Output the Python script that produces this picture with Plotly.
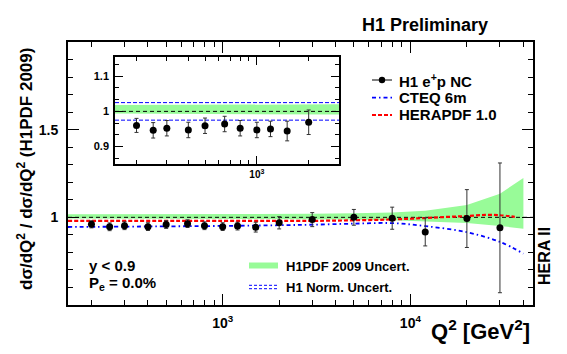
import numpy as np
import plotly.graph_objects as go

W, H = 567, 354

# ---------------- data ----------------
q2 = [200, 250, 300, 400, 500, 650, 800, 1000, 1200, 1500, 2000,
      3000, 5000, 8000, 12000, 20000, 30000]
ratio = [0.960, 0.946, 0.952, 0.947, 0.959, 0.964, 0.952, 0.947, 0.950, 0.944, 0.969,
         0.987, 1.000, 0.995, 0.917, 0.993, 0.940]
err = [0.020, 0.022, 0.022, 0.022, 0.022, 0.022, 0.022, 0.022, 0.022, 0.028, 0.035,
       0.040, 0.045, 0.063, 0.080, 0.165, 0.370]

band_q2 = [150, 1000, 3000, 5000, 8000, 12000, 20000, 30000, 40000]
band_hi = [1.018, 1.018, 1.020, 1.023, 1.028, 1.038, 1.070, 1.135, 1.225]
band_lo = [0.994, 0.993, 0.991, 0.988, 0.984, 0.978, 0.967, 0.951, 0.935]

cteq_q2 = [150, 300, 1000, 2000, 3000, 5000, 8000, 12000, 20000, 30000, 40000]
cteq = [0.945, 0.947, 0.951, 0.955, 0.958, 0.964, 0.967, 0.950, 0.915, 0.860, 0.793]

hera_q2 = [150, 1000, 3000, 5000, 8000, 12000, 16000, 20000, 25000, 30000, 36000]
hera = [0.980, 0.980, 0.980, 0.983, 0.988, 0.996, 1.003, 1.007, 1.014, 1.012, 1.003]

norm_unc = 0.025
n_inset = 11

main_x_range = [150, 45000]
main_y_range = [0.5, 2.0]
inset_x_range = [150, 3000]
inset_y_range = [0.85, 1.155]

FONT = "Liberation Sans"
CTEQ_DASH = "4px,3px,1.5px,3px"
HERA_DASH = "4px,2px"


def fx(x):
    return x / W


def fy(y):
    return 1 - y / H


fig = go.Figure()

# ---------------- main plot ----------------
fig.add_trace(go.Scatter(x=band_q2, y=band_lo, mode="lines", line=dict(width=0),
                         showlegend=False, hoverinfo="skip", xaxis="x", yaxis="y"))
fig.add_trace(go.Scatter(x=band_q2, y=band_hi, mode="lines", line=dict(width=0),
                         fill="tonexty", fillcolor="#98fb98", showlegend=False,
                         hoverinfo="skip", xaxis="x", yaxis="y"))
fig.add_trace(go.Scatter(x=main_x_range, y=[1, 1], mode="lines",
                         line=dict(color="black", width=1, dash="4px,3px"),
                         showlegend=False, xaxis="x", yaxis="y"))
fig.add_trace(go.Scatter(x=cteq_q2, y=cteq, mode="lines", line_shape="spline",
                         line=dict(color="blue", width=1.8, dash=CTEQ_DASH),
                         showlegend=False, xaxis="x", yaxis="y"))
fig.add_trace(go.Scatter(x=hera_q2, y=hera, mode="lines", line_shape="spline",
                         line=dict(color="red", width=2.2, dash=HERA_DASH),
                         showlegend=False, xaxis="x", yaxis="y"))
fig.add_trace(go.Scatter(x=q2, y=ratio, mode="markers",
                         marker=dict(color="black", size=7),
                         error_y=dict(type="data", array=err, color="#333333",
                                      thickness=1, width=2),
                         showlegend=False, xaxis="x", yaxis="y"))

# ---------------- inset ----------------
fig.add_trace(go.Scatter(x=band_q2, y=band_lo, mode="lines", line=dict(width=0),
                         showlegend=False, hoverinfo="skip", xaxis="x2", yaxis="y2"))
fig.add_trace(go.Scatter(x=band_q2, y=band_hi, mode="lines", line=dict(width=0),
                         fill="tonexty", fillcolor="#98fb98", showlegend=False,
                         hoverinfo="skip", xaxis="x2", yaxis="y2"))
for s in (1, -1):
    fig.add_trace(go.Scatter(x=inset_x_range, y=[1 + s * norm_unc] * 2, mode="lines",
                             line=dict(color="blue", width=1, dash="4px,2px"),
                             showlegend=False, xaxis="x2", yaxis="y2"))
fig.add_trace(go.Scatter(x=inset_x_range, y=[1, 1], mode="lines",
                         line=dict(color="black", width=1, dash="4px,3px"),
                         showlegend=False, xaxis="x2", yaxis="y2"))
fig.add_trace(go.Scatter(x=q2[:n_inset], y=ratio[:n_inset], mode="markers",
                         marker=dict(color="black", size=7),
                         error_y=dict(type="data", array=err[:n_inset], color="#333333",
                                      thickness=1, width=2),
                         showlegend=False, xaxis="x2", yaxis="y2"))

tickfont = dict(family=FONT, size=14, color="black", weight="bold")

main_minor_x = [200, 300, 400, 500, 600, 700, 800, 900,
                2000, 3000, 4000, 5000, 6000, 7000, 8000, 9000, 20000, 30000, 40000]
inset_minor_x = [200, 300, 400, 500, 600, 700, 800, 900, 2000, 3000]

fig.update_layout(
    width=W, height=H, margin=dict(l=0, r=0, t=0, b=0),
    paper_bgcolor="white", plot_bgcolor="white",
    showlegend=False,
    xaxis=dict(type="log", range=[np.log10(main_x_range[0]), np.log10(main_x_range[1])],
               domain=[fx(68), fx(533)], anchor="y",
               tickmode="array", tickvals=[1000, 10000],
               ticktext=["10<sup>3</sup>", "10<sup>4</sup>"],
               ticks="inside", ticklen=11, tickwidth=1, tickcolor="black",
               minor=dict(ticks="inside", ticklen=5, tickwidth=1, tickcolor="black",
                          tickmode="array", tickvals=main_minor_x),
               showline=True, linecolor="black", linewidth=2, mirror="ticks",
               showgrid=False, zeroline=False, tickfont=dict(tickfont, size=14),
               ticklabelstandoff=4),
    yaxis=dict(range=main_y_range, domain=[fy(305), fy(42)], anchor="x",
               tickmode="array", tickvals=[1.0, 1.5], ticktext=["1", "1.5"],
               ticks="inside", ticklen=11, tickwidth=1, tickcolor="black",
               minor=dict(ticks="inside", ticklen=5, tickwidth=1, tickcolor="black",
                          dtick=0.1, tick0=0.5),
               showline=True, linecolor="black", linewidth=2, mirror="ticks",
               showgrid=False, zeroline=False, tickfont=tickfont,
               ticklabelstandoff=5),
    xaxis2=dict(type="log", range=[np.log10(inset_x_range[0]), np.log10(inset_x_range[1])],
                domain=[fx(115), fx(339)], anchor="y2",
                tickmode="array", tickvals=[1000], ticktext=["10<sup>3</sup>"],
                ticks="inside", ticklen=8, tickwidth=1, tickcolor="black",
                minor=dict(ticks="inside", ticklen=4, tickwidth=1, tickcolor="black",
                           tickmode="array", tickvals=inset_minor_x),
                showline=True, linecolor="black", linewidth=1.5, mirror="ticks",
                showgrid=False, zeroline=False,
                tickfont=dict(family=FONT, size=10, color="black", weight="bold"),
                ticklabelstandoff=0),
    yaxis2=dict(range=inset_y_range, domain=[fy(164), fy(57)], anchor="x2",
                tickmode="array", tickvals=[0.9, 1.0, 1.1], ticktext=["0.9", "1", "1.1"],
                ticks="inside", ticklen=8, tickwidth=1, tickcolor="black",
                minor=dict(ticks="inside", ticklen=4, tickwidth=1, tickcolor="black",
                           dtick=0.1 / 3, tick0=0.9),
                showline=True, linecolor="black", linewidth=1.5, mirror="ticks",
                showgrid=False, zeroline=False,
                tickfont=dict(family=FONT, size=11, color="black", weight="bold"),
                ticklabelstandoff=2),
)

shapes = []
ann = []


def text(x, y, s, size, xanchor="left", yanchor="middle", angle=0):
    ann.append(dict(x=fx(x), y=fy(y), xref="paper", yref="paper", text=s,
                    showarrow=False, xanchor=xanchor, yanchor=yanchor, textangle=angle,
                    font=dict(family=FONT, size=size, color="black", weight="bold")))


def hline(x0, x1, y, color, width, dash):
    shapes.append(dict(type="line", xref="paper", yref="paper", x0=fx(x0), x1=fx(x1),
                       y0=fy(y), y1=fy(y), line=dict(color=color, width=width, dash=dash)))


# top-right legend
hline(372, 392, 80, "black", 1, "solid")
shapes.append(dict(type="circle", xref="paper", yref="paper", x0=fx(378.8), x1=fx(385.2),
                   y0=fy(83.2), y1=fy(76.8), fillcolor="black", line=dict(width=0)))
text(397, 80, "H1 e<sup>+</sup>p NC", 15)
hline(372, 392, 97.7, "blue", 1.8, CTEQ_DASH)
text(397, 97.7, "CTEQ 6m", 15)
hline(372, 392, 115, "red", 2, HERA_DASH)
text(397, 115, "HERAPDF 1.0", 15)

# bottom legend
shapes.append(dict(type="rect", xref="paper", yref="paper", x0=fx(249), x1=fx(278),
                   y0=fy(268.5), y1=fy(262.5), fillcolor="#98fb98", line=dict(width=0)))
text(284, 266, "H1PDF 2009 Uncert.", 13)
hline(249, 278, 285.3, "blue", 1, "3px,2px")
hline(249, 278, 288.7, "blue", 1, "3px,2px")
text(284, 287, "H1 Norm. Uncert.", 13)

# other text
text(87, 265, "y &lt; 0.9", 15)
text(87, 283, "P<sub>e</sub> = 0.0%", 15)
text(490, 25, "H1 Preliminary", 18, xanchor="right")
text(544, 256, "HERA II", 16, xanchor="center", angle=-90)
text(25, 169, "d\u03c3/dQ<sup>2</sup> / d\u03c3/dQ<sup>2</sup> (H1PDF 2009)", 17,
     xanchor="center", angle=-90)
text(532, 330, "Q<sup>2</sup> [GeV<sup>2</sup>]", 22, xanchor="right")

fig.update_layout(shapes=shapes, annotations=ann)

fig.write_html("out.html")
